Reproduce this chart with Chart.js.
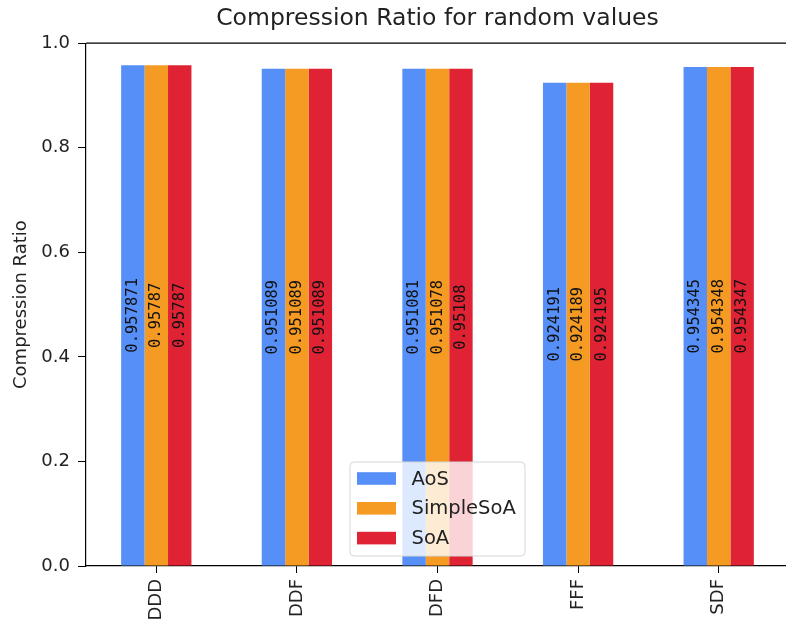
<!DOCTYPE html>
<html>
<head>
<meta charset="utf-8">
<script src="https://cdn.jsdelivr.net/npm/chart.js@4.4.1/dist/chart.umd.min.js"></script>
<style>
  html, body { margin: 0; padding: 0; background: #fff; overflow: hidden; }
  #wrap { position: absolute; left: 0; top: 0; width: 800px; height: 627px; }
</style>
</head>
<body>
<div id="wrap"><canvas id="chart" width="800" height="627"></canvas></div>
<script>
// Compression ratio per layout, one value per category
const CATEGORIES = ['DDD', 'DDF', 'DFD', 'FFF', 'SDF'];
const AOS = [0.957871, 0.951089, 0.951081, 0.924191, 0.954345];
const SIMPLE_SOA = [0.95787, 0.951089, 0.951078, 0.924189, 0.954348];
const SOA = [0.95787, 0.951089, 0.95108, 0.924195, 0.954347];
const SERIES_NAMES = ['AoS', 'SimpleSoA', 'SoA'];
const Y_TICKS = [0, 0.2, 0.4, 0.6, 0.8, 1.0];
const TITLE = 'Compression Ratio for random values';

const COLORS = ['rgb(86, 143, 247)', 'rgb(245, 155, 35)', 'rgb(223, 35, 52)'];
const FONT = 'DejaVu Sans';
const TEXT = '#222';

// Spines on top/right plus the value labels inside each bar
const decorPlugin = {
  id: 'decor',
  afterDatasetsDraw(chart) {
    const { ctx, chartArea: a } = chart;
    ctx.save();
    ctx.font = '15.5px "DejaVu Sans Mono"';
    ctx.fillStyle = '#111';
    ctx.textAlign = 'center';
    ctx.textBaseline = 'middle';
    chart.data.datasets.forEach((ds, i) => {
      const meta = chart.getDatasetMeta(i);
      meta.data.forEach((bar, j) => {
        const cy = (bar.y + bar.base) / 2;
        ctx.save();
        ctx.translate(bar.x, cy);
        ctx.rotate(-Math.PI / 2);
        ctx.fillText(String(ds.data[j]), 0, 0);
        ctx.restore();
      });
    });
    ctx.strokeStyle = '#000';
    ctx.lineWidth = 1.2;
    ctx.beginPath();
    ctx.moveTo(a.left, a.top);
    ctx.lineTo(a.right, a.top);
    ctx.lineTo(a.right, a.bottom);
    ctx.stroke();
    // title centred over the axes, not the canvas
    ctx.font = '23.5px "' + FONT + '"';
    ctx.fillStyle = TEXT;
    ctx.textBaseline = 'middle';
    ctx.fillText(TITLE, (a.left + a.right) / 2, 19);
    ctx.restore();
  },
  afterDraw(chart) {
    // legend box, matplotlib style, lower centre of the axes
    const { ctx, chartArea: a } = chart;
    const w = 175, h = 94;
    const x0 = (a.left + a.right) / 2 - w / 2;
    const y0 = a.bottom - 10 - h;
    ctx.save();
    ctx.beginPath();
    ctx.roundRect(x0, y0, w, h, 4);
    ctx.fillStyle = 'rgba(255,255,255,0.8)';
    ctx.fill();
    ctx.strokeStyle = '#d6d6d6';
    ctx.lineWidth = 1;
    ctx.stroke();
    ctx.font = '19.5px "' + FONT + '"';
    ctx.textBaseline = 'middle';
    ctx.textAlign = 'left';
    SERIES_NAMES.forEach((name, i) => {
      const cy = y0 + 16.5 + i * 29.8;
      ctx.fillStyle = COLORS[i];
      ctx.fillRect(x0 + 7, cy - 6.3, 39, 12.6);
      ctx.fillStyle = TEXT;
      ctx.fillText(name, x0 + 61.5, cy + 1);
    });
    ctx.restore();
  },
};

new Chart(document.getElementById('chart'), {
  type: 'bar',
  data: {
    labels: CATEGORIES,
    datasets: [AOS, SIMPLE_SOA, SOA].map((vals, i) => ({
      label: SERIES_NAMES[i],
      data: vals,
      backgroundColor: COLORS[i],
      borderWidth: 0,
      barPercentage: 1.0,
      categoryPercentage: 0.5,
    })),
  },
  options: {
    responsive: false,
    animation: false,
    layout: { padding: { left: 0, right: 11, top: 0, bottom: 0 } },
    plugins: {
      legend: { display: false },
      tooltip: { enabled: false },
      // reserves the space above the axes; the visible title is drawn by decorPlugin
      title: {
        display: true,
        text: TITLE,
        color: 'rgba(0,0,0,0)',
        font: { family: FONT, size: 23.5, weight: 'normal' },
        padding: { top: 5, bottom: 10 },
      },
    },
    scales: {
      x: {
        grid: { offset: false, drawOnChartArea: false, drawTicks: true, tickLength: 7, color: '#000' },
        border: { display: true, color: '#000', width: 1.2 },
        ticks: {
          color: TEXT,
          font: { family: FONT, size: 18 },
          maxRotation: 90,
          minRotation: 90,
          padding: 6,
        },
        afterFit: (s) => { s.height = 61; },
      },
      y: {
        min: 0,
        max: 1,
        afterBuildTicks: (s) => { s.ticks = Y_TICKS.map((v) => ({ value: v })); },
        grid: { drawOnChartArea: false, drawTicks: true, tickLength: 8, color: '#000' },
        border: { display: true, color: '#000', width: 1.2 },
        ticks: {
          color: TEXT,
          font: { family: FONT, size: 18 },
          padding: 8,
          callback: (v) => Number(v).toFixed(1),
        },
        title: {
          display: true,
          text: 'Compression Ratio',
          color: TEXT,
          font: { family: FONT, size: 18 },
          padding: { top: 11, bottom: 0 },
        },
        afterFit: (s) => { s.width = 86; },
      },
    },
  },
  plugins: [decorPlugin],
});
</script>
</body>
</html>
